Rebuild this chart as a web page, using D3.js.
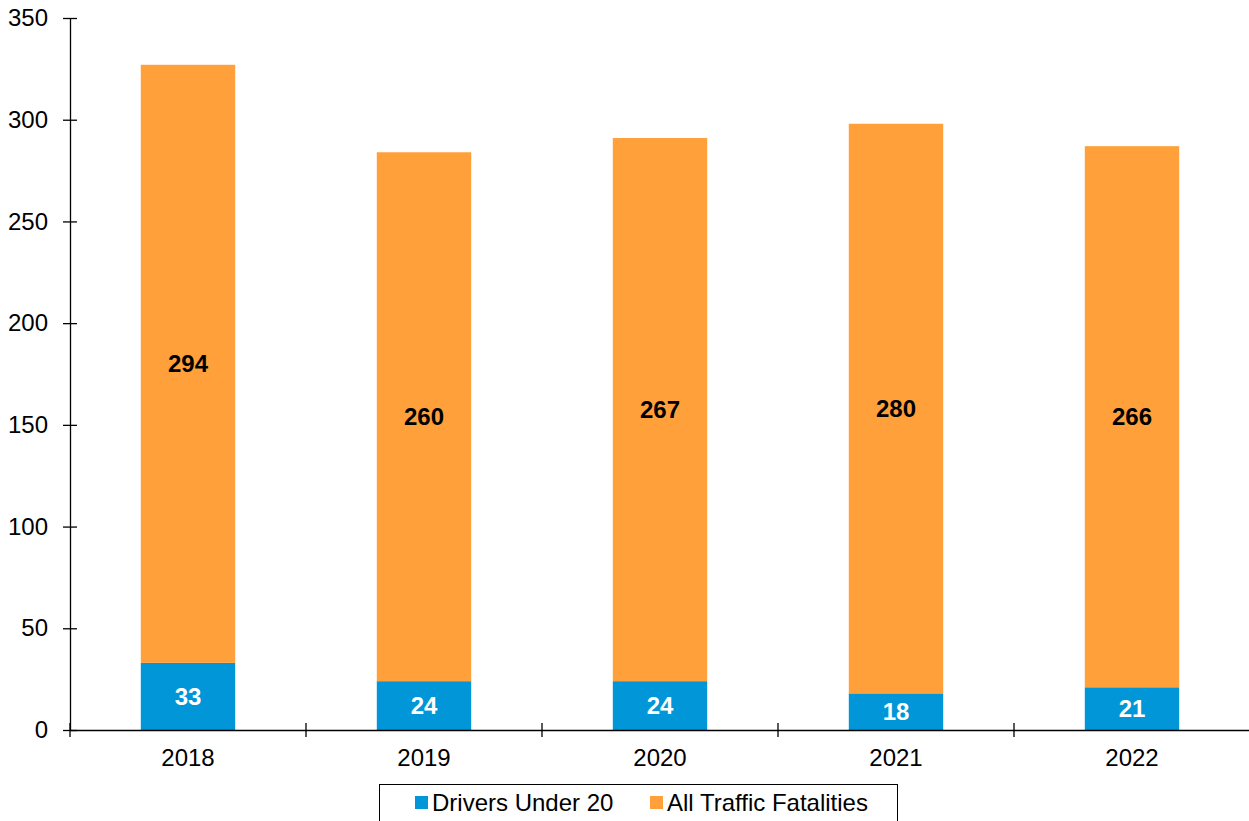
<!DOCTYPE html>
<html>
<head>
<meta charset="utf-8">
<script src="https://cdn.jsdelivr.net/npm/d3@7"></script>
<style>
  html, body { margin: 0; padding: 0; background: #fff; }
  svg { display: block; font-family: "Liberation Sans", Arial, sans-serif; }
</style>
</head>
<body>
<svg id="chart" width="1249" height="821"></svg>
<script>
const years = ["2018", "2019", "2020", "2021", "2022"];
const driversUnder20 = [33, 24, 24, 18, 21];
const allTrafficFatalities = [294, 260, 267, 280, 266];
const yTicks = [0, 50, 100, 150, 200, 250, 300, 350];
const seriesNames = ["Drivers Under 20", "All Traffic Fatalities"];
const colors = ["#0096D7", "#FFA03A"];
const FS = 24;

const svg = d3.select("#chart");
const mLeft = 70, mRight = 1250, mTop = 18, mBottom = 730;

const x = d3.scaleBand().domain(years).range([mLeft, mRight]).paddingInner(0.6).paddingOuter(0.3);
const xb = d3.scaleLinear().domain([0, years.length]).range([mLeft, mRight]);
const y = d3.scaleLinear().domain([0, 350]).range([mBottom, mTop]);

const table = years.map((yr, i) => ({ year: yr, d: driversUnder20[i], a: allTrafficFatalities[i] }));
const stack = d3.stack().keys(["d", "a"])(table);

const g = svg.append("g");
stack.forEach((layer, li) => {
  g.selectAll(null).data(layer).enter().append("rect")
    .attr("x", d => x(d.data.year))
    .attr("width", x.bandwidth())
    .attr("y", d => y(d[1]))
    .attr("height", d => y(d[0]) - y(d[1]))
    .attr("fill", colors[li]);
  g.selectAll(null).data(layer).enter().append("text")
    .attr("x", d => x(d.data.year) + x.bandwidth() / 2)
    .attr("y", d => y((d[0] + d[1]) / 2))
    .attr("dy", "0.35em")
    .attr("text-anchor", "middle")
    .attr("font-weight", "bold")
    .attr("font-size", FS)
    .attr("fill", li === 0 ? "#fff" : "#000")
    .text(d => d[1] - d[0]);
});

// Y axis
const yAxis = g.append("g").attr("transform", `translate(${mLeft},0)`)
  .call(d3.axisLeft(y).tickValues(yTicks).tickSize(0).tickPadding(22));
yAxis.select(".domain").attr("stroke", "#000").attr("stroke-width", 1.3);
yAxis.selectAll(".tick text").attr("font-size", FS).attr("fill", "#000").attr("font-family", "Liberation Sans, Arial, sans-serif");
yAxis.selectAll(".tick").append("line").attr("x1", -7).attr("x2", 7).attr("stroke", "#000").attr("stroke-width", 1.3);

// X axis
const xAxis = g.append("g").attr("transform", `translate(0,${mBottom})`)
  .call(d3.axisBottom(x).tickSize(0).tickPadding(19));
xAxis.select(".domain").attr("stroke", "#000").attr("stroke-width", 1.3);
xAxis.selectAll(".tick text").attr("font-size", FS).attr("fill", "#000").attr("font-family", "Liberation Sans, Arial, sans-serif");
g.append("g").selectAll("line").data(d3.range(years.length + 1)).enter().append("line")
  .attr("x1", d => xb(d)).attr("x2", d => xb(d))
  .attr("y1", mBottom - 7).attr("y2", mBottom + 7)
  .attr("stroke", "#000").attr("stroke-width", 1.3);

// Legend
const lg = svg.append("g");
lg.append("rect").attr("x", 379.5).attr("y", 784.5).attr("width", 518).attr("height", 50)
  .attr("fill", "#fff").attr("stroke", "#000").attr("stroke-width", 1);
const legendX = [415, 650];
seriesNames.forEach((n, i) => {
  lg.append("rect").attr("x", legendX[i]).attr("y", 796).attr("width", 13).attr("height", 13).attr("fill", colors[i]);
  lg.append("text").attr("x", legendX[i] + 17).attr("y", 803).attr("dy", "0.35em")
    .attr("font-size", FS).attr("fill", "#000").text(n);
});
</script>
</body>
</html>
